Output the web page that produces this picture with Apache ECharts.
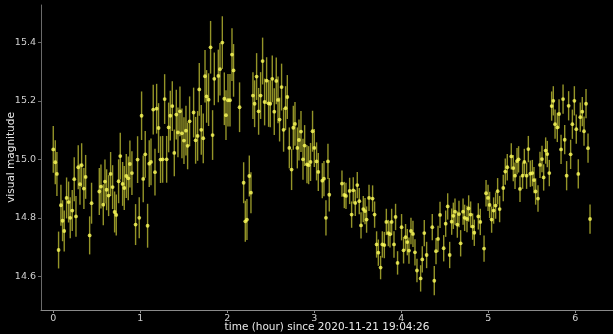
<!DOCTYPE html>
<html>
<head>
<meta charset="utf-8">
<title>visual magnitude light curve</title>
<script src="https://cdn.jsdelivr.net/npm/echarts@6/dist/echarts.min.js"></script>
<style>
  html, body { margin: 0; padding: 0; background: #000; }
  #chart { width: 613px; height: 334px; }
</style>
</head>
<body>
<div id="chart"></div>
<script>
// Observation times (hours since start), magnitudes and 1-sigma errors
const hours = [
  0.000, 0.023, 0.042, 0.061, 0.088, 0.107, 0.126, 0.153, 0.176, 0.195,
  0.218, 0.241, 0.261, 0.287, 0.307, 0.326, 0.352, 0.372, 0.418, 0.440,
  0.529, 0.548, 0.575, 0.594, 0.613, 0.636, 0.659, 0.682, 0.705, 0.724,
  0.751, 0.770, 0.797, 0.816, 0.839, 0.862, 0.881, 0.904, 0.946, 0.969,
  0.988, 1.015, 1.034, 1.057, 1.084, 1.103, 1.123, 1.149, 1.169, 1.188,
  1.210, 1.233, 1.257, 1.280, 1.303, 1.326, 1.345, 1.368, 1.391, 1.414,
  1.433, 1.456, 1.479, 1.502, 1.525, 1.544, 1.567, 1.613, 1.636, 1.659,
  1.678, 1.701, 1.724, 1.744, 1.762, 1.785, 1.808, 1.831, 1.851, 1.897,
  1.916, 1.943, 1.966, 1.985, 2.008, 2.031, 2.054, 2.072, 2.141, 2.188,
  2.207, 2.226, 2.253, 2.272, 2.295, 2.314, 2.337, 2.360, 2.383, 2.406,
  2.429, 2.452, 2.475, 2.494, 2.517, 2.540, 2.563, 2.583, 2.601, 2.624,
  2.647, 2.670, 2.690, 2.713, 2.739, 2.759, 2.778, 2.805, 2.824, 2.847,
  2.870, 2.889, 2.916, 2.935, 2.957, 2.980, 3.000, 3.026, 3.046, 3.092,
  3.111, 3.134, 3.157, 3.172, 3.318, 3.345, 3.364, 3.406, 3.429, 3.448,
  3.471, 3.494, 3.517, 3.537, 3.563, 3.583, 3.601, 3.629, 3.670, 3.693,
  3.716, 3.736, 3.762, 3.782, 3.805, 3.828, 3.851, 3.870, 3.889, 3.916,
  3.934, 3.957, 4.003, 4.026, 4.049, 4.069, 4.088, 4.111, 4.134, 4.157,
  4.180, 4.222, 4.241, 4.264, 4.291, 4.356, 4.379, 4.399, 4.422, 4.445,
  4.487, 4.510, 4.533, 4.556, 4.579, 4.598, 4.617, 4.644, 4.663, 4.682,
  4.710, 4.728, 4.755, 4.774, 4.797, 4.820, 4.839, 4.885, 4.908, 4.951,
  4.974, 4.997, 5.015, 5.038, 5.061, 5.084, 5.107, 5.130, 5.172, 5.195,
  5.218, 5.264, 5.287, 5.307, 5.330, 5.348, 5.364, 5.394, 5.414, 5.440,
  5.460, 5.483, 5.506, 5.525, 5.544, 5.571, 5.594, 5.617, 5.636, 5.659,
  5.678, 5.701, 5.728, 5.747, 5.767, 5.793, 5.813, 5.836, 5.859, 5.878,
  5.900, 5.923, 5.946, 5.966, 5.989, 6.011, 6.034, 6.057, 6.080, 6.100,
  6.123, 6.146, 6.169
];

const magnitudes = [
  15.034, 14.990, 14.950, 14.690, 14.843, 14.790, 14.755, 14.868, 14.854, 14.800,
  14.825, 14.932, 14.805, 14.973, 14.915, 14.980, 14.900, 14.940, 14.740, 14.850,
  14.890, 14.907, 14.845, 14.924, 14.896, 14.876, 14.950, 14.905, 14.820, 14.810,
  14.925, 15.011, 14.916, 14.902, 14.943, 14.935, 14.984, 14.953, 14.777, 14.999,
  14.800, 15.149, 14.933, 15.017, 14.773, 14.985, 14.991, 15.170, 14.956, 15.173,
  15.107, 14.999, 15.000, 15.206, 15.000, 15.109, 15.149, 15.182, 15.022, 15.153,
  15.092, 15.164, 15.089, 15.064, 15.098, 15.046, 15.130, 15.160, 15.065, 15.080,
  15.239, 15.101, 15.072, 15.284, 15.215, 15.204, 15.383, 15.083, 15.275, 15.285,
  15.308, 15.399, 15.207, 15.151, 15.202, 15.202, 15.358, 15.304, 15.178, 14.920,
  14.788, 14.794, 14.943, 14.886, 15.218, 15.190, 15.283, 15.164, 15.218, 15.336,
  15.196, 15.269, 15.191, 15.190, 15.275, 15.163, 15.268, 15.203, 15.136, 15.247,
  15.101, 15.175, 15.213, 15.039, 14.965, 15.108, 15.121, 15.039, 15.066, 15.095,
  15.000, 15.047, 14.983, 14.980, 14.991, 15.096, 15.039, 14.993, 14.957, 14.927,
  14.934, 14.800, 14.993, 14.879, 14.917, 14.878, 14.875, 14.892, 14.811, 14.894,
  14.851, 14.912, 14.857, 14.774, 14.830, 14.823, 14.794, 14.868, 14.866, 14.811,
  14.709, 14.681, 14.630, 14.709, 14.707, 14.786, 14.748, 14.744, 14.786, 14.709,
  14.803, 14.646, 14.768, 14.689, 14.734, 14.717, 14.688, 14.755, 14.745, 14.682,
  14.620, 14.593, 14.658, 14.748, 14.673, 14.768, 14.585, 14.686, 14.728, 14.810,
  14.696, 14.780, 14.839, 14.673, 14.787, 14.807, 14.821, 14.777, 14.813, 14.713,
  14.821, 14.800, 14.796, 14.832, 14.811, 14.770, 14.749, 14.805, 14.786, 14.695,
  14.884, 14.868, 14.844, 14.794, 14.825, 14.842, 14.891, 14.830, 14.902, 14.958,
  14.973, 15.010, 14.970, 14.944, 14.994, 15.000, 14.899, 14.944, 14.991, 14.944,
  15.035, 14.951, 14.953, 14.929, 14.890, 14.866, 14.981, 15.001, 14.938, 15.030,
  15.018, 14.953, 15.182, 15.200, 15.120, 15.109, 15.155, 15.034, 15.206, 15.067,
  14.944, 15.183, 15.017, 15.120, 15.200, 15.103, 14.950, 15.144, 15.163, 15.096,
  15.190, 15.038, 14.796
];

const errors = [
  0.080, 0.075, 0.075, 0.063, 0.070, 0.070, 0.070, 0.070, 0.070, 0.070,
  0.070, 0.075, 0.070, 0.075, 0.070, 0.075, 0.070, 0.075, 0.065, 0.070,
  0.080, 0.075, 0.070, 0.075, 0.070, 0.070, 0.075, 0.075, 0.070, 0.070,
  0.075, 0.080, 0.075, 0.075, 0.075, 0.075, 0.080, 0.075, 0.070, 0.080,
  0.070, 0.083, 0.080, 0.080, 0.075, 0.080, 0.080, 0.085, 0.080, 0.085,
  0.085, 0.080, 0.080, 0.085, 0.080, 0.085, 0.085, 0.085, 0.080, 0.085,
  0.085, 0.085, 0.085, 0.080, 0.085, 0.080, 0.085, 0.085, 0.080, 0.085,
  0.090, 0.085, 0.085, 0.090, 0.090, 0.090, 0.090, 0.085, 0.090, 0.090,
  0.090, 0.090, 0.090, 0.085, 0.090, 0.090, 0.090, 0.090, 0.085, 0.070,
  0.070, 0.070, 0.070, 0.070, 0.080, 0.080, 0.080, 0.080, 0.080, 0.080,
  0.080, 0.080, 0.080, 0.080, 0.080, 0.080, 0.080, 0.080, 0.075, 0.080,
  0.075, 0.075, 0.075, 0.070, 0.070, 0.075, 0.075, 0.070, 0.070, 0.070,
  0.070, 0.070, 0.065, 0.065, 0.065, 0.070, 0.065, 0.065, 0.065, 0.060,
  0.060, 0.060, 0.060, 0.057, 0.045, 0.045, 0.045, 0.045, 0.045, 0.045,
  0.045, 0.045, 0.045, 0.045, 0.045, 0.045, 0.045, 0.045, 0.045, 0.045,
  0.045, 0.045, 0.040, 0.045, 0.045, 0.045, 0.045, 0.045, 0.045, 0.045,
  0.045, 0.040, 0.045, 0.045, 0.045, 0.045, 0.045, 0.045, 0.045, 0.045,
  0.040, 0.045, 0.045, 0.045, 0.045, 0.045, 0.050, 0.045, 0.045, 0.045,
  0.045, 0.045, 0.045, 0.045, 0.045, 0.045, 0.045, 0.045, 0.045, 0.045,
  0.045, 0.045, 0.045, 0.045, 0.045, 0.045, 0.045, 0.045, 0.045, 0.045,
  0.045, 0.045, 0.045, 0.045, 0.045, 0.045, 0.045, 0.045, 0.045, 0.045,
  0.045, 0.045, 0.045, 0.045, 0.045, 0.045, 0.045, 0.045, 0.045, 0.045,
  0.045, 0.045, 0.045, 0.045, 0.045, 0.045, 0.045, 0.045, 0.045, 0.045,
  0.045, 0.045, 0.050, 0.050, 0.050, 0.050, 0.050, 0.050, 0.050, 0.050,
  0.050, 0.050, 0.050, 0.050, 0.050, 0.050, 0.050, 0.050, 0.050, 0.050,
  0.050, 0.050, 0.050
];

const xTicks = [0, 1, 2, 3, 4, 5, 6];
const yTicks = [14.6, 14.8, 15.0, 15.2, 15.4];

const points = hours.map((h, i) => [h, magnitudes[i], errors[i]]);

const chart = echarts.init(document.getElementById('chart'), null, { renderer: 'canvas' });

const axisText = { color: '#d0d0d0', fontFamily: 'DejaVu Sans', fontSize: 9.5 };

chart.setOption({
  backgroundColor: '#000000',
  animation: false,
  grid: { left: 41, right: 0, top: 5, bottom: 24, containLabel: false, outerBoundsMode: 'none' },
  xAxis: {
    type: 'value',
    min: -0.141,
    max: 6.433,
    name: 'time (hour) since 2020-11-21 19:04:26',
    nameLocation: 'middle',
    nameGap: 12,
    nameMoveOverlap: false,
    nameTextStyle: { color: '#e8e8e8', fontFamily: 'DejaVu Sans', fontSize: 10.5, verticalAlign: 'top' },
    axisLine: { show: true, onZero: false, lineStyle: { color: '#8a8a8a', width: 1 } },
    axisTick: { show: true, length: 3, customValues: xTicks, lineStyle: { color: '#8a8a8a' } },
    axisLabel: Object.assign({ margin: 4, customValues: xTicks, formatter: v => String(v) }, axisText),
    splitLine: { show: false }
  },
  yAxis: {
    type: 'value',
    min: 14.485,
    max: 15.5275,
    name: 'visual magnitude',
    nameLocation: 'middle',
    nameGap: 24,
    nameRotate: 90,
    nameMoveOverlap: false,
    nameTextStyle: { color: '#e8e8e8', fontFamily: 'DejaVu Sans', fontSize: 10.5 },
    axisLine: { show: true, onZero: false, lineStyle: { color: '#6a6a6a', width: 1 } },
    axisTick: { show: true, length: 3, customValues: yTicks, lineStyle: { color: '#6a6a6a' } },
    axisLabel: Object.assign({ margin: 5, customValues: yTicks, formatter: v => v.toFixed(1) }, axisText),
    splitLine: { show: false }
  },
  series: [
    {
      // vertical error bars: magnitude +/- error
      type: 'custom',
      data: points,
      encode: { x: 0, y: 1 },
      silent: true,
      renderItem: function (params, api) {
        const x = api.value(0), y = api.value(1), e = api.value(2);
        const lo = api.coord([x, y - e]);
        const hi = api.coord([x, y + e]);
        return {
          type: 'line',
          shape: { x1: lo[0], y1: lo[1], x2: hi[0], y2: hi[1] },
          style: { stroke: 'rgba(205,205,55,0.72)', lineWidth: 1.4 }
        };
      }
    },
    {
      type: 'scatter',
      data: points.map(p => [p[0], p[1]]),
      symbol: 'circle',
      symbolSize: 3.8,
      itemStyle: { color: '#ffff5c' },
      silent: true
    }
  ]
});
</script>
</body>
</html>
